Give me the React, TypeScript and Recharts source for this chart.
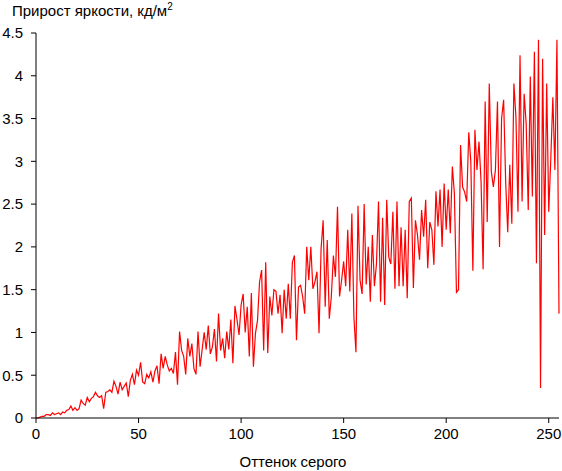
import React from 'react';
import { LineChart, Line, XAxis, YAxis } from 'recharts';

// Подписи и оси
const TITLE = 'Прирост яркости, кд/м';
const X_LABEL = 'Оттенок серого';
const X_TICKS = [0, 50, 100, 150, 200, 250];
const Y_TICKS = [0, 0.5, 1, 1.5, 2, 2.5, 3, 3.5, 4, 4.5];

// Прирост яркости для оттенков серого 0..255
const GAIN = [
  0.00, 0.00, 0.01, 0.02, 0.02, 0.04, 0.04, 0.03, 0.06, 0.04,
  0.05, 0.06, 0.04, 0.07, 0.06, 0.09, 0.10, 0.14, 0.09, 0.12,
  0.09, 0.11, 0.21, 0.17, 0.15, 0.24, 0.19, 0.23, 0.25, 0.30,
  0.26, 0.24, 0.26, 0.11, 0.30, 0.31, 0.33, 0.30, 0.43, 0.37,
  0.28, 0.42, 0.33, 0.37, 0.41, 0.25, 0.44, 0.51, 0.39, 0.56,
  0.50, 0.65, 0.42, 0.40, 0.51, 0.47, 0.54, 0.42, 0.55, 0.61,
  0.40, 0.75, 0.58, 0.72, 0.62, 0.55, 0.58, 0.52, 0.77, 0.39,
  1.01, 0.79, 0.72, 0.51, 0.93, 0.72, 0.87, 0.58, 0.51, 1.01,
  0.60, 0.80, 1.00, 0.80, 1.08, 0.75, 0.83, 1.04, 0.66, 1.22,
  0.79, 0.93, 0.70, 1.01, 0.80, 1.15, 0.64, 1.31, 1.15, 0.97,
  1.32, 1.45, 1.00, 1.30, 0.72, 1.46, 0.60, 0.99, 1.14, 1.59,
  1.73, 0.79, 1.82, 0.76, 1.42, 1.20, 1.50, 1.48, 1.22, 1.44,
  0.99, 1.50, 1.16, 1.57, 1.16, 1.82, 1.90, 0.91, 1.53, 1.55,
  1.42, 1.22, 2.00, 1.61, 2.00, 1.51, 1.59, 1.71, 0.99, 1.98,
  2.31, 1.30, 2.08, 1.16, 1.42, 1.90, 1.65, 2.47, 1.42, 1.61,
  1.83, 1.54, 2.20, 1.48, 2.39, 1.18, 0.77, 2.48, 1.61, 1.45,
  2.50, 1.56, 2.00, 1.36, 2.14, 1.54, 1.80, 2.53, 1.36, 2.34,
  1.32, 2.55, 1.88, 1.80, 2.41, 1.51, 2.53, 1.54, 2.23, 1.54,
  2.20, 1.40, 2.53, 2.57, 1.52, 2.31, 2.14, 1.85, 2.43, 2.12,
  2.55, 1.75, 2.29, 2.20, 1.79, 2.65, 2.24, 2.67, 2.00, 2.74,
  2.20, 2.67, 2.16, 2.94, 2.62, 1.47, 1.50, 3.19, 2.70, 2.64,
  2.53, 3.34, 3.00, 1.72, 3.37, 2.90, 3.23, 2.76, 1.74, 3.70,
  2.29, 3.91, 2.88, 2.70, 2.90, 3.70, 2.00, 3.50, 3.72, 2.76,
  2.17, 2.96, 2.27, 3.91, 3.52, 2.41, 4.24, 2.53, 3.79, 3.44,
  2.43, 3.99, 2.59, 4.28, 1.81, 4.42, 0.35, 4.20, 2.14, 3.91,
  2.41, 3.03, 3.75, 2.90, 4.42, 1.22,
];

const data = GAIN.map((v, i) => ({ shade: i, gain: v }));

const FONT = 'Arial, "Liberation Sans", sans-serif';
const tickStyle = { fill: '#000', fontSize: 15, fontFamily: FONT };

export default function App() {
  return (
    <div style={{ position: 'absolute', left: 0, top: 0, width: 562, height: 471, fontFamily: FONT, color: '#000', background: '#fff' }}>
      <div style={{ position: 'absolute', left: 12, top: 2, fontSize: 15, lineHeight: '17px', whiteSpace: 'nowrap' }}>
        {TITLE}
        <span style={{ fontSize: 10, position: 'relative', top: -6 }}>2</span>
      </div>
      <LineChart width={562} height={471} data={data} margin={{ top: 33, right: 3, bottom: 23, left: 0 }}>
        <XAxis
          dataKey="shade"
          type="number"
          domain={[0, 255]}
          ticks={X_TICKS}
          height={30}
          stroke="#000"
          tick={tickStyle}
          tickSize={5}
          tickMargin={5}
        />
        <YAxis
          type="number"
          domain={[0, 4.5]}
          ticks={Y_TICKS}
          width={36}
          stroke="#000"
          tick={tickStyle}
          tickSize={5}
          tickMargin={8}
        />
        <Line
          dataKey="gain"
          type="linear"
          stroke="#ff0000"
          strokeWidth={1.2}
          dot={false}
          isAnimationActive={false}
        />
      </LineChart>
      <div style={{ position: 'absolute', left: 0, width: 586, top: 453, textAlign: 'center', fontSize: 15, lineHeight: '17px' }}>
        {X_LABEL}
      </div>
    </div>
  );
}
